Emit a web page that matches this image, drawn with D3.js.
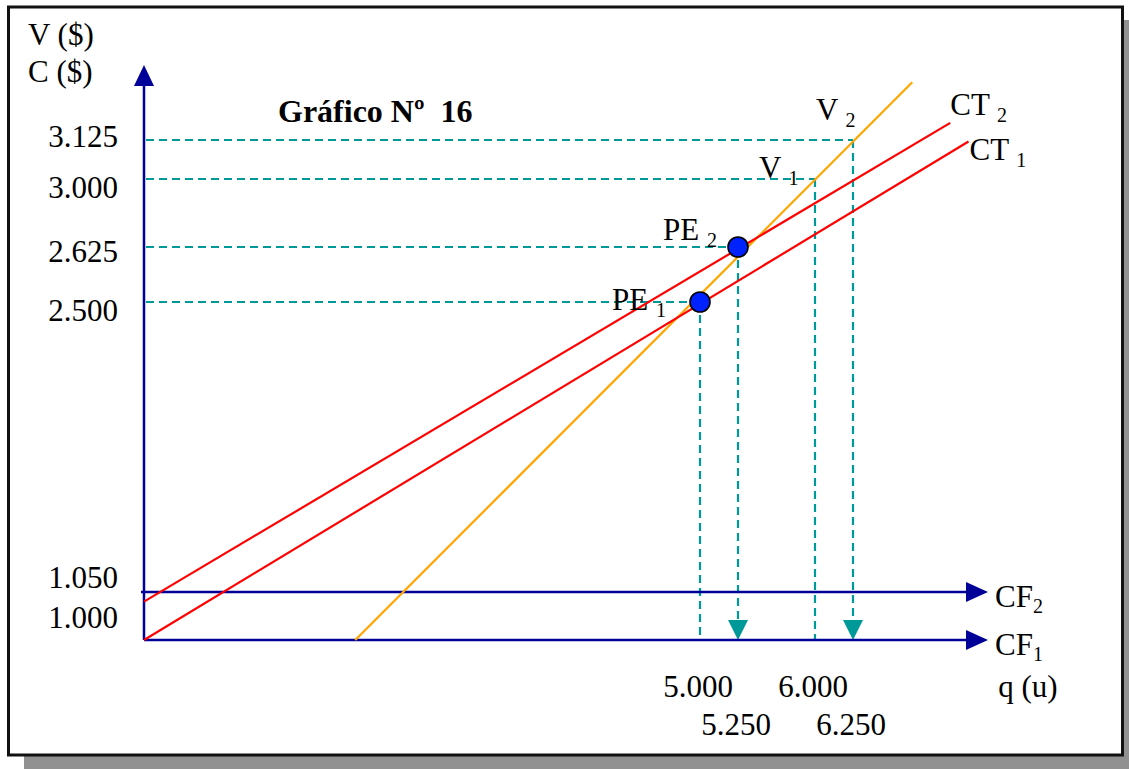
<!DOCTYPE html>
<html>
<head>
<meta charset="utf-8">
<script src="https://cdn.jsdelivr.net/npm/d3@7"></script>
<style>
  html, body { margin: 0; padding: 0; background: #fff; }
  svg { display: block; }
  text { font-family: "Liberation Serif", "Times New Roman", serif; fill: #000; }
</style>
</head>
<body>
<svg id="chart" width="1129" height="769"></svg>
<script>
// Quantity ticks (units) and money ticks ($)
const qTicks = [5000, 6000, 5250, 6250];
const qTickLabels = ["5.000", "6.000", "5.250", "6.250"];
const vTicks = [1000, 1050, 2500, 2625, 3000, 3125];
const vTickLabels = ["1.000", "1.050", "2.500", "2.625", "3.000", "3.125"];

// Fixed costs CF1, CF2
const fixedCosts = [1000, 1050];

// Break-even points PE1, PE2
const breakEvenQ = [5000, 5250];
const breakEvenV = [2500, 2625];

// Sales points V1, V2
const salesQ = [6000, 6250];
const salesV = [3000, 3125];

// Straight lines as [q, $] end points
const totalCost1 = [[0, 1000], [7010, 3120]];
const totalCost2 = [[0, 1040], [6890, 3180]];
const salesLine = [[1900, 1000], [6640, 3310]];

// ---- layout ----
const W = 1129, H = 769;
const svg = d3.select("#chart");
const navy = "#000099", teal = "#009999", red = "#ff0000", orange = "#ffa500";
const fs = 31, subFs = 20;

// schematic (piecewise) scales
const x = d3.scaleLinear().domain([0, 5000, 5250, 6000, 6250]).range([144, 700, 738, 815, 853]);
const y = d3.scaleLinear().domain([1000, 1050, 2500, 2625, 3000, 3125]).range([640, 592, 302, 247, 179, 140]);

// frame with drop shadow
svg.append("rect").attr("x", 24).attr("y", 20).attr("width", W - 24).attr("height", H - 20).attr("fill", "#919191");
svg.append("rect").attr("x", 8.5).attr("y", 7).attr("width", 1114).attr("height", 748)
  .attr("fill", "#fff").attr("stroke", "#111").attr("stroke-width", 3);

function triangle(tx, ty, dir, len, half, color) {
  let pts;
  if (dir === "up") pts = [[tx, ty], [tx - half, ty + len], [tx + half, ty + len]];
  else if (dir === "down") pts = [[tx, ty], [tx - half, ty - len], [tx + half, ty - len]];
  else pts = [[tx, ty], [tx - len, ty - half], [tx - len, ty + half]];
  svg.append("path").attr("d", d3.line()(pts) + "Z").attr("fill", color);
}

// dashed guides from the axes to the break-even and sales points
const guides = svg.append("g").attr("stroke", teal).attr("stroke-width", 2.2)
  .attr("stroke-dasharray", "8,5").attr("fill", "none");
const guidePts = [
  { q: breakEvenQ[0], v: breakEvenV[0], arrow: false },
  { q: breakEvenQ[1], v: breakEvenV[1], arrow: true },
  { q: salesQ[0], v: salesV[0], arrow: false },
  { q: salesQ[1], v: salesV[1], arrow: true }
];
guidePts.forEach(p => {
  guides.append("line").attr("x1", x(0) + 2).attr("x2", x(p.q)).attr("y1", y(p.v)).attr("y2", y(p.v));
  const yEnd = p.arrow ? y(fixedCosts[0]) - 19 : y(fixedCosts[0]);
  guides.append("line").attr("x1", x(p.q)).attr("x2", x(p.q)).attr("y1", y(p.v)).attr("y2", yEnd);
  if (p.arrow) triangle(x(p.q), y(fixedCosts[0]), "down", 20, 10, teal);
});

// fixed-cost axes CF1 and CF2
const axisRight = 988;
fixedCosts.forEach((c, i) => {
  svg.append("line").attr("x1", x(0) - (i ? 3 : 0)).attr("x2", axisRight - 20)
    .attr("y1", y(c)).attr("y2", y(c)).attr("stroke", navy).attr("stroke-width", 2.5);
  triangle(axisRight, y(c), "right", 22, 10, navy);
  const t = svg.append("text").attr("x", 995).attr("y", y(c) + 15).attr("font-size", fs);
  t.append("tspan").text("CF");
  t.append("tspan").attr("font-size", subFs).attr("dy", 6).text(String(i + 1));
});

// vertical money axis
svg.append("line").attr("x1", x(0)).attr("x2", x(0)).attr("y1", y(fixedCosts[0])).attr("y2", 84)
  .attr("stroke", navy).attr("stroke-width", 2.5);
triangle(x(0), 65, "up", 21, 10, navy);

// cost and sales lines
const lineGen = d3.line().x(d => x(d[0])).y(d => y(d[1]));
svg.append("path").attr("d", lineGen(salesLine)).attr("stroke", orange).attr("stroke-width", 2.2).attr("fill", "none");
[totalCost1, totalCost2].forEach(l => {
  svg.append("path").attr("d", lineGen(l)).attr("stroke", red).attr("stroke-width", 2.2).attr("fill", "none");
});

// break-even markers
breakEvenQ.forEach((q, i) => {
  svg.append("circle").attr("cx", x(q)).attr("cy", y(breakEvenV[i])).attr("r", 10)
    .attr("fill", "#0022ff").attr("stroke", "#000").attr("stroke-width", 1.6);
});

// labels with a subscript index
function subLabel(px, py, main, sub) {
  const t = svg.append("text").attr("x", px).attr("y", py).attr("font-size", fs);
  t.append("tspan").text(main + " ");
  t.append("tspan").attr("font-size", subFs).attr("dy", 7).text(sub);
}
subLabel(x(breakEvenQ[0]) - 88, y(breakEvenV[0]) + 8, "PE", "1");
subLabel(x(breakEvenQ[1]) - 75, y(breakEvenV[1]) - 7, "PE", "2");
subLabel(x(salesQ[0]) - 56, y(salesV[0]) - 1, "V", "1");
subLabel(x(salesQ[1]) - 37, y(salesV[1]) - 20, "V", "2");
subLabel(x(totalCost1[1][0]) + 1, y(totalCost1[1][1]) + 18, "CT", "1");
subLabel(x(totalCost2[1][0]), y(totalCost2[1][1]) - 8, "CT", "2");

// money tick labels
const vLabelShift = [-12, -4, 19, 15, 19, 7];
vTicks.forEach((v, i) => {
  svg.append("text").attr("x", 118).attr("y", y(v) + vLabelShift[i])
    .attr("text-anchor", "end").attr("font-size", fs).text(vTickLabels[i]);
});

// quantity tick labels in two staggered rows
const qRowY = [697, 697, 735, 735];
qTicks.forEach((q, i) => {
  svg.append("text").attr("x", x(q) - 2).attr("y", qRowY[i])
    .attr("text-anchor", "middle").attr("font-size", fs).text(qTickLabels[i]);
});

// axis titles and chart title
svg.append("text").attr("x", 1028).attr("y", 697).attr("text-anchor", "middle").attr("font-size", fs).text("q (u)");
svg.append("text").attr("x", 28).attr("y", 45).attr("font-size", fs).text("V ($)");
svg.append("text").attr("x", 28).attr("y", 82).attr("font-size", fs).text("C ($)");
svg.append("text").attr("x", 278).attr("y", 122).attr("font-size", 32).attr("font-weight", "bold").text("Gráfico Nº  16")
  .attr("xml:space", "preserve").style("white-space", "pre");
</script>
</body>
</html>
